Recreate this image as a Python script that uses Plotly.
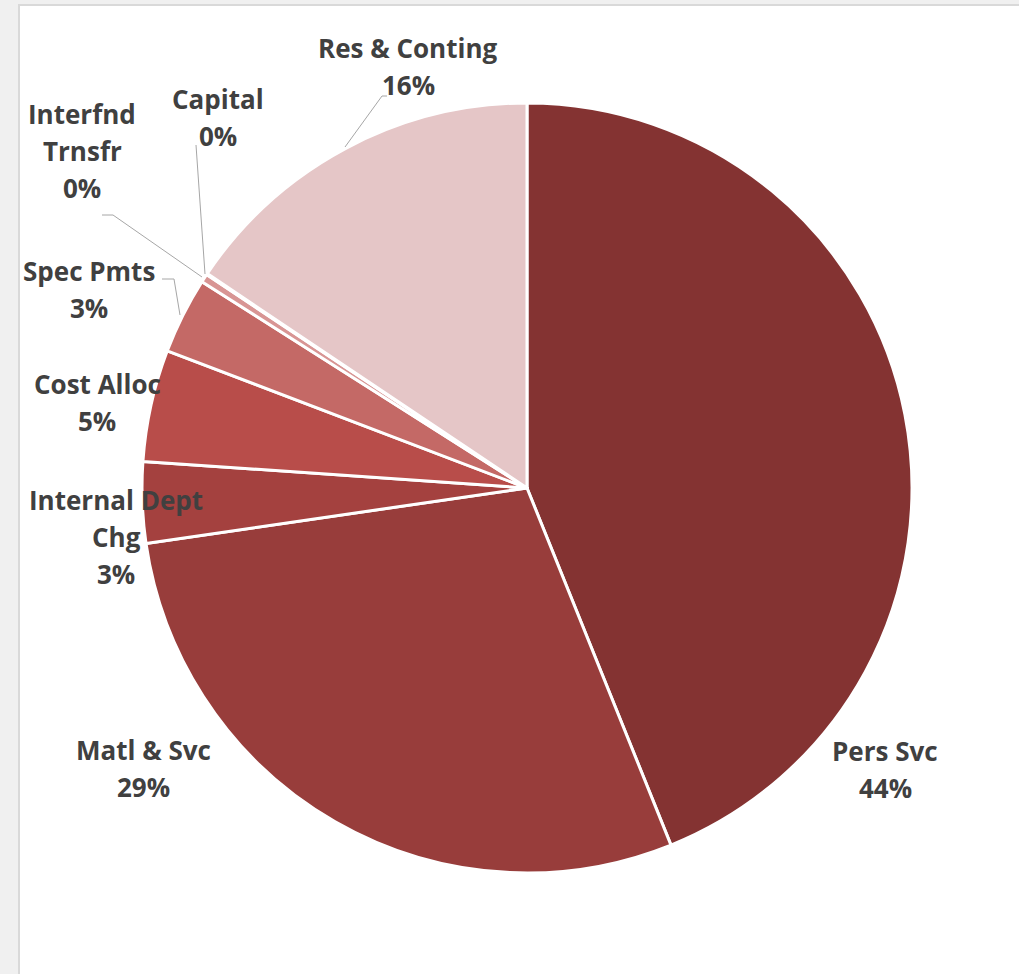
import plotly.graph_objects as go

labels = ["Pers Svc", "Matl & Svc", "Internal Dept Chg", "Cost Alloc", "Spec Pmts",
          "Interfnd Trnsfr", "Capital", "Res & Conting"]
values = [43.9, 28.8, 3.4, 4.7, 3.2, 0.35, 0.05, 15.6]
colors = ["#843332", "#983D3B", "#A4413F", "#B84D4A", "#C46966", "#D89594", "#E0B4B4", "#E5C6C7"]
# display text lines for each label (line breaks as in the original)
label_lines = [["Pers Svc"], ["Matl & Svc"], ["Internal Dept", "Chg"], ["Cost Alloc"], ["Spec Pmts"],
               ["Interfnd", "Trnsfr"], ["Capital"], ["Res & Conting"]]
# position of the first text line (pixels, layout only)
label_pos = [(885, 751), (143, 750), (116, 500), (97, 384), (89, 271),
             (82, 114), (218, 99), (408, 48)]
LINE = 37

W, H = 1019, 974
cx, cy, r = 527, 488, 385

fig = go.Figure()
fig.add_trace(go.Pie(
    labels=labels, values=values, sort=False, direction="clockwise", rotation=0,
    marker=dict(colors=colors, line=dict(color="white", width=3)),
    textinfo="none", hoverinfo="label+percent", showlegend=False,
    domain=dict(x=[(cx - r) / W, (cx + r) / W], y=[(H - cy - r) / H, (H - cy + r) / H]),
))

total = sum(values)
annotations = []
for lines, v, (px, py) in zip(label_lines, values, label_pos):
    pct = round(100 * v / total)
    for i, t in enumerate(lines + [f"{pct}%"]):
        annotations.append(dict(
            x=px / W, y=1 - (py + i * LINE) / H, xref="paper", yref="paper",
            text=t, showarrow=False, xanchor="center", yanchor="middle",
            font=dict(family="Open Sans", size=26, color="#404040", weight="bold"),
        ))

shapes = [
    # white chart panel with light grey frame
    dict(type="rect", xref="paper", yref="paper", x0=19 / W, x1=1.01, y0=-0.01, y1=1 - 5 / H,
         fillcolor="white", line=dict(color="#d9d9d9", width=2), layer="below"),
]

def path(points):
    d = "M " + " L ".join(f"{x / W},{1 - y / H}" for x, y in points)
    return dict(type="path", xref="paper", yref="paper", path=d,
                line=dict(color="#a6a6a6", width=1))

# leader lines
shapes.append(path([(345, 147), (382, 96), (387, 96)]))
shapes.append(path([(205, 274), (196, 145)]))
shapes.append(path([(202, 277), (113, 215), (102, 215)]))
shapes.append(path([(180, 315), (174, 279), (162, 279)]))

fig.update_layout(
    width=W, height=H, margin=dict(l=0, r=0, t=0, b=0),
    paper_bgcolor="#f0f0f0", plot_bgcolor="white",
    annotations=annotations, shapes=shapes,
)
fig.write_html("out.html")
